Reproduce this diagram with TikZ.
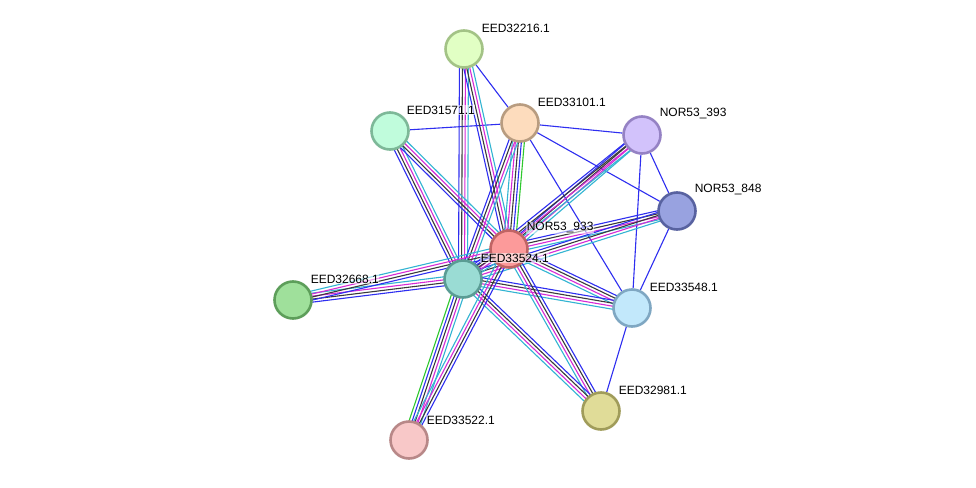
\documentclass[tikz,border=0pt]{standalone}
\usepackage{fontspec}
\setmainfont{Liberation Sans}
\usetikzlibrary{calc}
\pgfdeclarelayer{bg}
\pgfsetlayers{bg,main}
\definecolor{eB}{HTML}{2E2EF0}
\definecolor{eM}{HTML}{D62AD6}
\definecolor{eK}{HTML}{3A3A3A}
\definecolor{eC}{HTML}{32B4D2}
\definecolor{eG}{HTML}{2EC82E}
\definecolor{f216}{HTML}{E1FFC4}\definecolor{d216}{HTML}{A3C386}
\definecolor{f101}{HTML}{FDDCBD}\definecolor{d101}{HTML}{B89C80}
\definecolor{f571}{HTML}{C0FCDC}\definecolor{d571}{HTML}{7DB898}
\definecolor{f393}{HTML}{D2C2FB}\definecolor{d393}{HTML}{9582C4}
\definecolor{f848}{HTML}{98A2E0}\definecolor{d848}{HTML}{5862A0}
\definecolor{f933}{HTML}{FC9A9A}\definecolor{d933}{HTML}{C06464}
\definecolor{f524}{HTML}{9ADCD4}\definecolor{d524}{HTML}{5A9C94}
\definecolor{f668}{HTML}{9FE09B}\definecolor{d668}{HTML}{5D9E5A}
\definecolor{f548}{HTML}{C2E8FB}\definecolor{d548}{HTML}{7FA7C2}
\definecolor{f981}{HTML}{E0DC98}\definecolor{d981}{HTML}{A09C5A}
\definecolor{f522}{HTML}{F8C8C8}\definecolor{d522}{HTML}{B88888}
\tikzset{
  prot/.style n args={2}{circle, minimum size=37pt, inner sep=0pt, line width=2.6pt, fill=#1, draw=#2},
  lab/.style={anchor=west, font=\fontsize{12pt}{12pt}\selectfont, inner sep=0.6pt, fill=white, fill opacity=0.55, text opacity=1},
  eline/.style={line width=1.1pt}
}
\newcommand\bundle[3]{%
  \foreach \o/\c in {#3}{%
    \draw[eline, \c] ($(#1)!\o pt!90:(#2)$) -- ($(#2)!\o pt!-90:(#1)$);
  }%
}
\newcommand\fourb[2]{\bundle{#1}{#2}{-4.5/eB,-1.5/eK,1.5/eM,4.5/eC}}
\newcommand\fiveb[2]{\bundle{#1}{#2}{6/eG,3/eB,0/eK,-3/eM,-6/eC}}
\newcommand\single[2]{\draw[eline, eB] (#1) -- (#2);}
\begin{document}
\begin{tikzpicture}[x=1pt, y=-1pt]
\useasboundingbox (0,0) rectangle (976,487);
% proteins
\node[prot={f216}{d216}] (p216) at (464,49) {};
\node[prot={f101}{d101}] (p101) at (520,123) {};
\node[prot={f571}{d571}] (p571) at (390,131) {};
\node[prot={f393}{d393}] (p393) at (642,135) {};
\node[prot={f848}{d848}] (p848) at (677,211) {};
\node[prot={f933}{d933}] (p933) at (509,249) {};
\node[prot={f524}{d524}] (p524) at (463,279) {};
\node[prot={f668}{d668}] (p668) at (293,300) {};
\node[prot={f548}{d548}] (p548) at (632,308) {};
\node[prot={f981}{d981}] (p981) at (601,411) {};
\node[prot={f522}{d522}] (p522) at (409,440) {};
% labels
\node[lab] (l216) at (481,28) {EED32216.1};
\node[lab] (l101) at (537,102) {EED33101.1};
\node[lab] (l571) at (406,110) {EED31571.1};
\node[lab] (l393) at (659,114) {NOR53\_393};
\node[lab] (l848) at (694,190) {NOR53\_848};
\node[lab] (l933) at (526,228) {NOR53\_933};
\node[lab] (l524) at (480,258) {EED33524.1};
\node[lab] (l668) at (310,279) {EED32668.1};
\node[lab] (l548) at (649,287) {EED33548.1};
\node[lab] (l981) at (618,390) {EED32981.1};
\node[lab] (l522) at (426,420) {EED33522.1};
\begin{pgfonlayer}{bg}
\fill[white] (0,0) rectangle (976,487);
% single blue edges
\single{p216}{p101}
\single{p571}{p101}
\single{p101}{p393}
\single{p101}{p848}
\single{p101}{p548}
\single{p393}{p848}
\single{p393}{p548}
\single{p848}{p548}
\single{p548}{p981}
% bundles
\fourb{p216}{p524}
\fourb{p216}{p933}
\fourb{p571}{p524}
\fourb{p571}{p933}
\fiveb{p101}{p933}
\fourb{p101}{p524}
\fourb{p393}{p933}
\fourb{p393}{p524}
\fourb{p848}{p933}
\fourb{p848}{p524}
\fourb{p933}{p524}
\fourb{p668}{p524}
\fourb{p668}{p933}
\fourb{p548}{p933}
\fourb{p548}{p524}
\fourb{p981}{p933}
\fourb{p981}{p524}
\fiveb{p522}{p524}
\fourb{p522}{p933}
\end{pgfonlayer}
\end{tikzpicture}
\end{document}
